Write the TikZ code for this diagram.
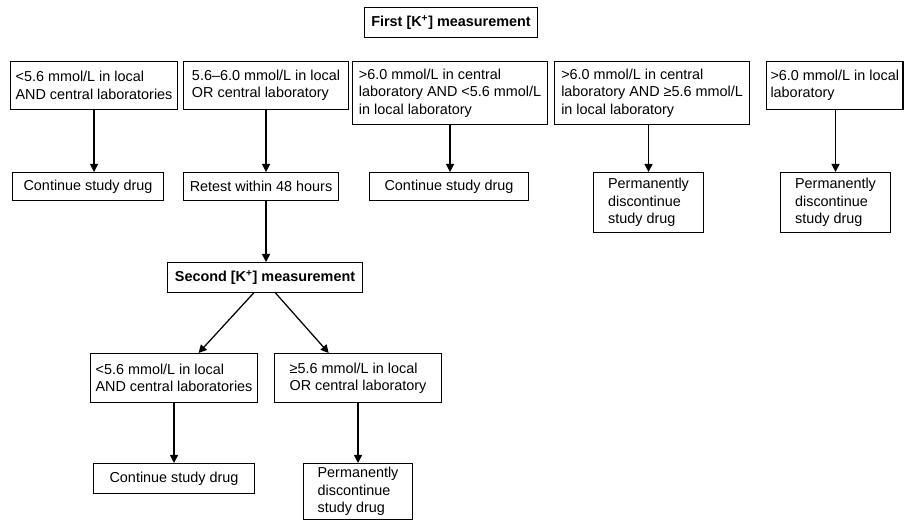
\documentclass[tikz,border=0pt]{standalone}
\usepackage{fontspec}
\setmainfont{Liberation Sans}
\usepackage{tikz}
\usetikzlibrary{arrows.meta}

\tikzset{
    flowbox/.style={draw, line width=0.8pt, align=left, anchor=north west,
        inner xsep=3pt, inner ysep=2pt, font=\fontsize{10.8}{13.1}\selectfont},
    flowarrow/.style={line width=0.95pt, -{Triangle[width=6pt, length=6pt]}},
}

\begin{document}
\begin{tikzpicture}[x=0.75pt, y=-0.75pt]
    \useasboundingbox (0,0) rectangle (904,520);

    \node[flowbox, minimum width=129.75pt, minimum height=22.5pt] (first) at (364,7)
        {\textbf{First [K\textsuperscript{+}] measurement}};

    \node[flowbox, minimum width=125.25pt, minimum height=36pt] (low) at (10,61)
        {<5.6 mmol/L in local\\AND central laboratories};
    \node[flowbox, minimum width=123.75pt, minimum height=36pt] (mid) at (183,61)
        {5.6–6.0 mmol/L in local\\OR central laboratory};
    \node[flowbox, minimum width=146.25pt, minimum height=47.25pt] (cenhigh) at (352,61)
        {>6.0 mmol/L in central\\laboratory AND <5.6 mmol/L\\in local laboratory};
    \node[flowbox, minimum width=146.25pt, minimum height=47.25pt] (bothhigh) at (554,61)
        {>6.0 mmol/L in central\\laboratory AND ≥5.6 mmol/L\\in local laboratory};
    \node[flowbox, minimum width=95.25pt, minimum height=36pt] (lochigh) at (766,61)
        {>6.0 mmol/L in local\\laboratory};

    \node[flowbox, minimum width=113.25pt, minimum height=21pt] (cont1) at (12,172)
        {Continue study drug};
    \node[flowbox, minimum width=116.25pt, minimum height=21pt] (retest) at (183,172)
        {Retest within 48 hours};
    \node[flowbox, minimum width=119.25pt, minimum height=21pt] (cont2) at (369,172)
        {Continue study drug};
    \node[flowbox, minimum width=82.5pt, minimum height=45pt] (stop1) at (593,172)
        {Permanently\\discontinue\\study drug};
    \node[flowbox, minimum width=82.5pt, minimum height=45pt] (stop2) at (780,172)
        {Permanently\\discontinue\\study drug};

    \node[flowbox, minimum width=146.25pt, minimum height=22.5pt] (second) at (167,262)
        {\textbf{Second [K\textsuperscript{+}] measurement}};

    \node[flowbox, minimum width=125.25pt, minimum height=36.75pt] (relow) at (90,353)
        {<5.6 mmol/L in local\\AND central laboratories};
    \node[flowbox, minimum width=125.25pt, minimum height=36.75pt] (rehigh) at (274,353)
        {≥5.6 mmol/L in local\\OR central laboratory};

    \node[flowbox, minimum width=120.75pt, minimum height=22.5pt] (cont3) at (93,463)
        {Continue study drug};
    \node[flowbox, minimum width=81.75pt, minimum height=42pt] (stop3) at (303,463)
        {Permanently\\discontinue\\study drug};

    \draw[flowarrow] (low.south) -- (low.south |- cont1.north);
    \draw[flowarrow] (mid.south) -- (mid.south |- retest.north);
    \draw[flowarrow] (cenhigh.south) -- (cenhigh.south |- cont2.north);
    \draw[flowarrow] (stop1.north |- bothhigh.south) -- (stop1.north);
    \draw[flowarrow] (stop2.north |- lochigh.south) -- (stop2.north);
    \draw[flowarrow] (mid.south |- retest.south) -- (mid.south |- second.north);
    \draw[flowarrow] ([xshift=-8.6pt]second.south) -- ([xshift=18.4pt]relow.north);
    \draw[flowarrow] ([xshift=7.9pt]second.south) -- ([xshift=-22pt]rehigh.north);
    \draw[flowarrow] (relow.south) -- (relow.south |- cont3.north);
    \draw[flowarrow] (rehigh.south) -- (rehigh.south |- stop3.north);
\end{tikzpicture}
\end{document}
